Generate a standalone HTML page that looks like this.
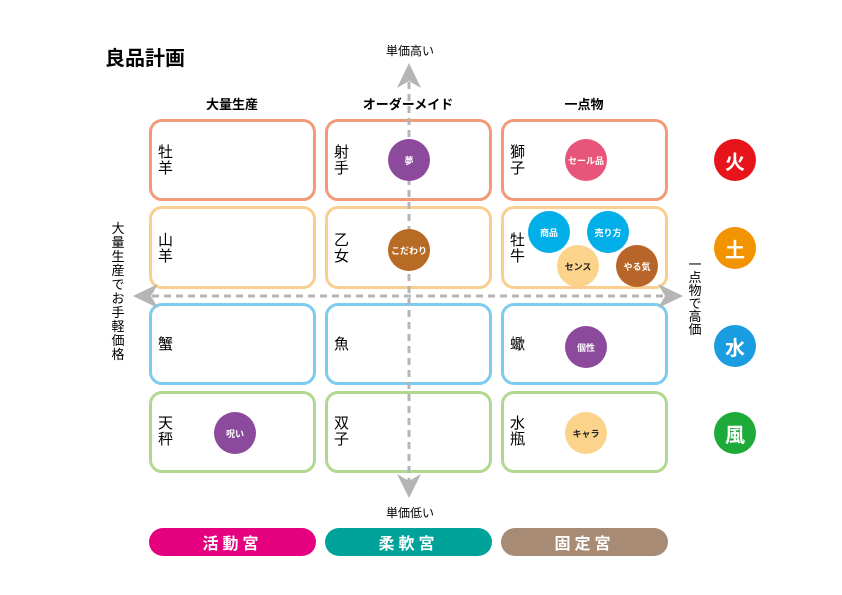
<!DOCTYPE html>
<html><head><meta charset="utf-8"><style>
body{margin:0;width:842px;height:595px;background:#fff;position:relative;overflow:hidden;font-family:"Liberation Sans","Noto Sans CJK JP",sans-serif;color:#000}
.a{position:absolute}
.box{position:absolute;box-sizing:border-box;border:3px solid;border-radius:13px;background:#fff}
.lbl{position:absolute;font-size:15px;line-height:16px;width:16px}
.c{position:absolute;border-radius:50%;display:flex;align-items:center;justify-content:center;color:#fff;font-weight:bold;font-size:9px}
.e{position:absolute;width:42px;height:42px;border-radius:50%;color:#fff;font-weight:bold;font-size:20px;display:flex;align-items:center;justify-content:center}
.pill{position:absolute;top:528px;height:28px;width:167px;border-radius:14px;color:#fff;font-weight:bold;font-size:16px;letter-spacing:4px;display:flex;align-items:center;justify-content:center}
.hd{position:absolute;top:94px;font-size:13px;font-weight:bold;width:166px;text-align:center}
.vt{position:absolute;font-size:13px;line-height:14px;width:16px;text-align:center}
</style></head><body>
<div class="a" style="left:105px;top:42px;font-size:20px;font-weight:bold">良品計画</div>
<div class="a" style="left:360px;top:42px;width:100px;text-align:center;font-size:12px">単価高い</div>
<div class="a" style="left:360px;top:504px;width:100px;text-align:center;font-size:12px">単価低い</div>
<div class="hd" style="left:149px">大量生産</div>
<div class="hd" style="left:325px">オーダーメイド</div>
<div class="hd" style="left:501px">一点物</div>

<div class="box" style="left:149px;top:119px;width:167px;height:82px;border-color:#f09a78"></div>
<div class="box" style="left:325px;top:119px;width:167px;height:82px;border-color:#f09a78"></div>
<div class="box" style="left:501px;top:119px;width:167px;height:82px;border-color:#f09a78"></div>
<div class="box" style="left:149px;top:206px;width:167px;height:83px;border-color:#f9cf8f"></div>
<div class="box" style="left:325px;top:206px;width:167px;height:83px;border-color:#f9cf8f"></div>
<div class="box" style="left:501px;top:206px;width:167px;height:83px;border-color:#f9cf8f"></div>
<div class="box" style="left:149px;top:303px;width:167px;height:82px;border-color:#7dcbee"></div>
<div class="box" style="left:325px;top:303px;width:167px;height:82px;border-color:#7dcbee"></div>
<div class="box" style="left:501px;top:303px;width:167px;height:82px;border-color:#7dcbee"></div>
<div class="box" style="left:149px;top:391px;width:167px;height:82px;border-color:#b0d890"></div>
<div class="box" style="left:325px;top:391px;width:167px;height:82px;border-color:#b0d890"></div>
<div class="box" style="left:501px;top:391px;width:167px;height:82px;border-color:#b0d890"></div>

<svg class="a" style="left:0;top:0" width="842" height="595">
<line x1="409" y1="82" x2="409" y2="482" stroke="#b5b5b5" stroke-width="3" stroke-dasharray="7,5"/>
<line x1="152" y1="296" x2="664" y2="296" stroke="#b5b5b5" stroke-width="3" stroke-dasharray="7,5"/>
<polygon points="409,63 397,88 409,81 421,88" fill="#b5b5b5"/>
<polygon points="409,498 397,474 409,481 421,474" fill="#b5b5b5"/>
<polygon points="133,296 158,284 151,296 158,308" fill="#b5b5b5"/>
<polygon points="683,296 658,284 665,296 658,308" fill="#b5b5b5"/>
</svg>

<div class="lbl" style="left:158px;top:145px">牡羊</div>
<div class="lbl" style="left:334px;top:145px">射手</div>
<div class="lbl" style="left:510px;top:145px">獅子</div>
<div class="lbl" style="left:158px;top:233px">山羊</div>
<div class="lbl" style="left:334px;top:233px">乙女</div>
<div class="lbl" style="left:510px;top:233px">牡牛</div>
<div class="lbl" style="left:158px;top:337px">蟹</div>
<div class="lbl" style="left:334px;top:337px">魚</div>
<div class="lbl" style="left:510px;top:337px">蠍</div>
<div class="lbl" style="left:158px;top:416px">天秤</div>
<div class="lbl" style="left:334px;top:416px">双子</div>
<div class="lbl" style="left:510px;top:416px">水瓶</div>

<div class="c" style="left:388px;top:139px;width:42px;height:42px;background:#8b4a9c">夢</div>
<div class="c" style="left:565px;top:139px;width:42px;height:42px;background:#e8557a">セール品</div>
<div class="c" style="left:388px;top:229px;width:42px;height:42px;background:#b86b25">こだわり</div>
<div class="c" style="left:528px;top:211px;width:42px;height:42px;background:#00aee8">商品</div>
<div class="c" style="left:587px;top:211px;width:42px;height:42px;background:#00aee8">売り方</div>
<div class="c" style="left:557px;top:245px;width:42px;height:42px;background:#fbd38a;color:#222">センス</div>
<div class="c" style="left:616px;top:245px;width:42px;height:42px;background:#b8652a">やる気</div>
<div class="c" style="left:565px;top:326px;width:42px;height:42px;background:#8b4a9c">個性</div>
<div class="c" style="left:214px;top:412px;width:42px;height:42px;background:#8b4a9c">呪い</div>
<div class="c" style="left:565px;top:412px;width:42px;height:42px;background:#fbd38a;color:#222">キャラ</div>

<div class="e" style="left:714px;top:139px;background:#e8141c">火</div>
<div class="e" style="left:714px;top:227px;background:#f29400">土</div>
<div class="e" style="left:714px;top:325px;background:#1a9de0">水</div>
<div class="e" style="left:714px;top:412px;background:#1eaa39">風</div>

<div class="vt" style="left:110px;top:222px">大量生産でお手軽価格</div>
<div class="vt" style="left:687px;top:258px;line-height:13px">一点物で高価</div>

<div class="pill" style="left:149px;background:#e4007f">活動宮</div>
<div class="pill" style="left:325px;background:#00a29a">柔軟宮</div>
<div class="pill" style="left:501px;background:#a78b74">固定宮</div>
</body></html>
